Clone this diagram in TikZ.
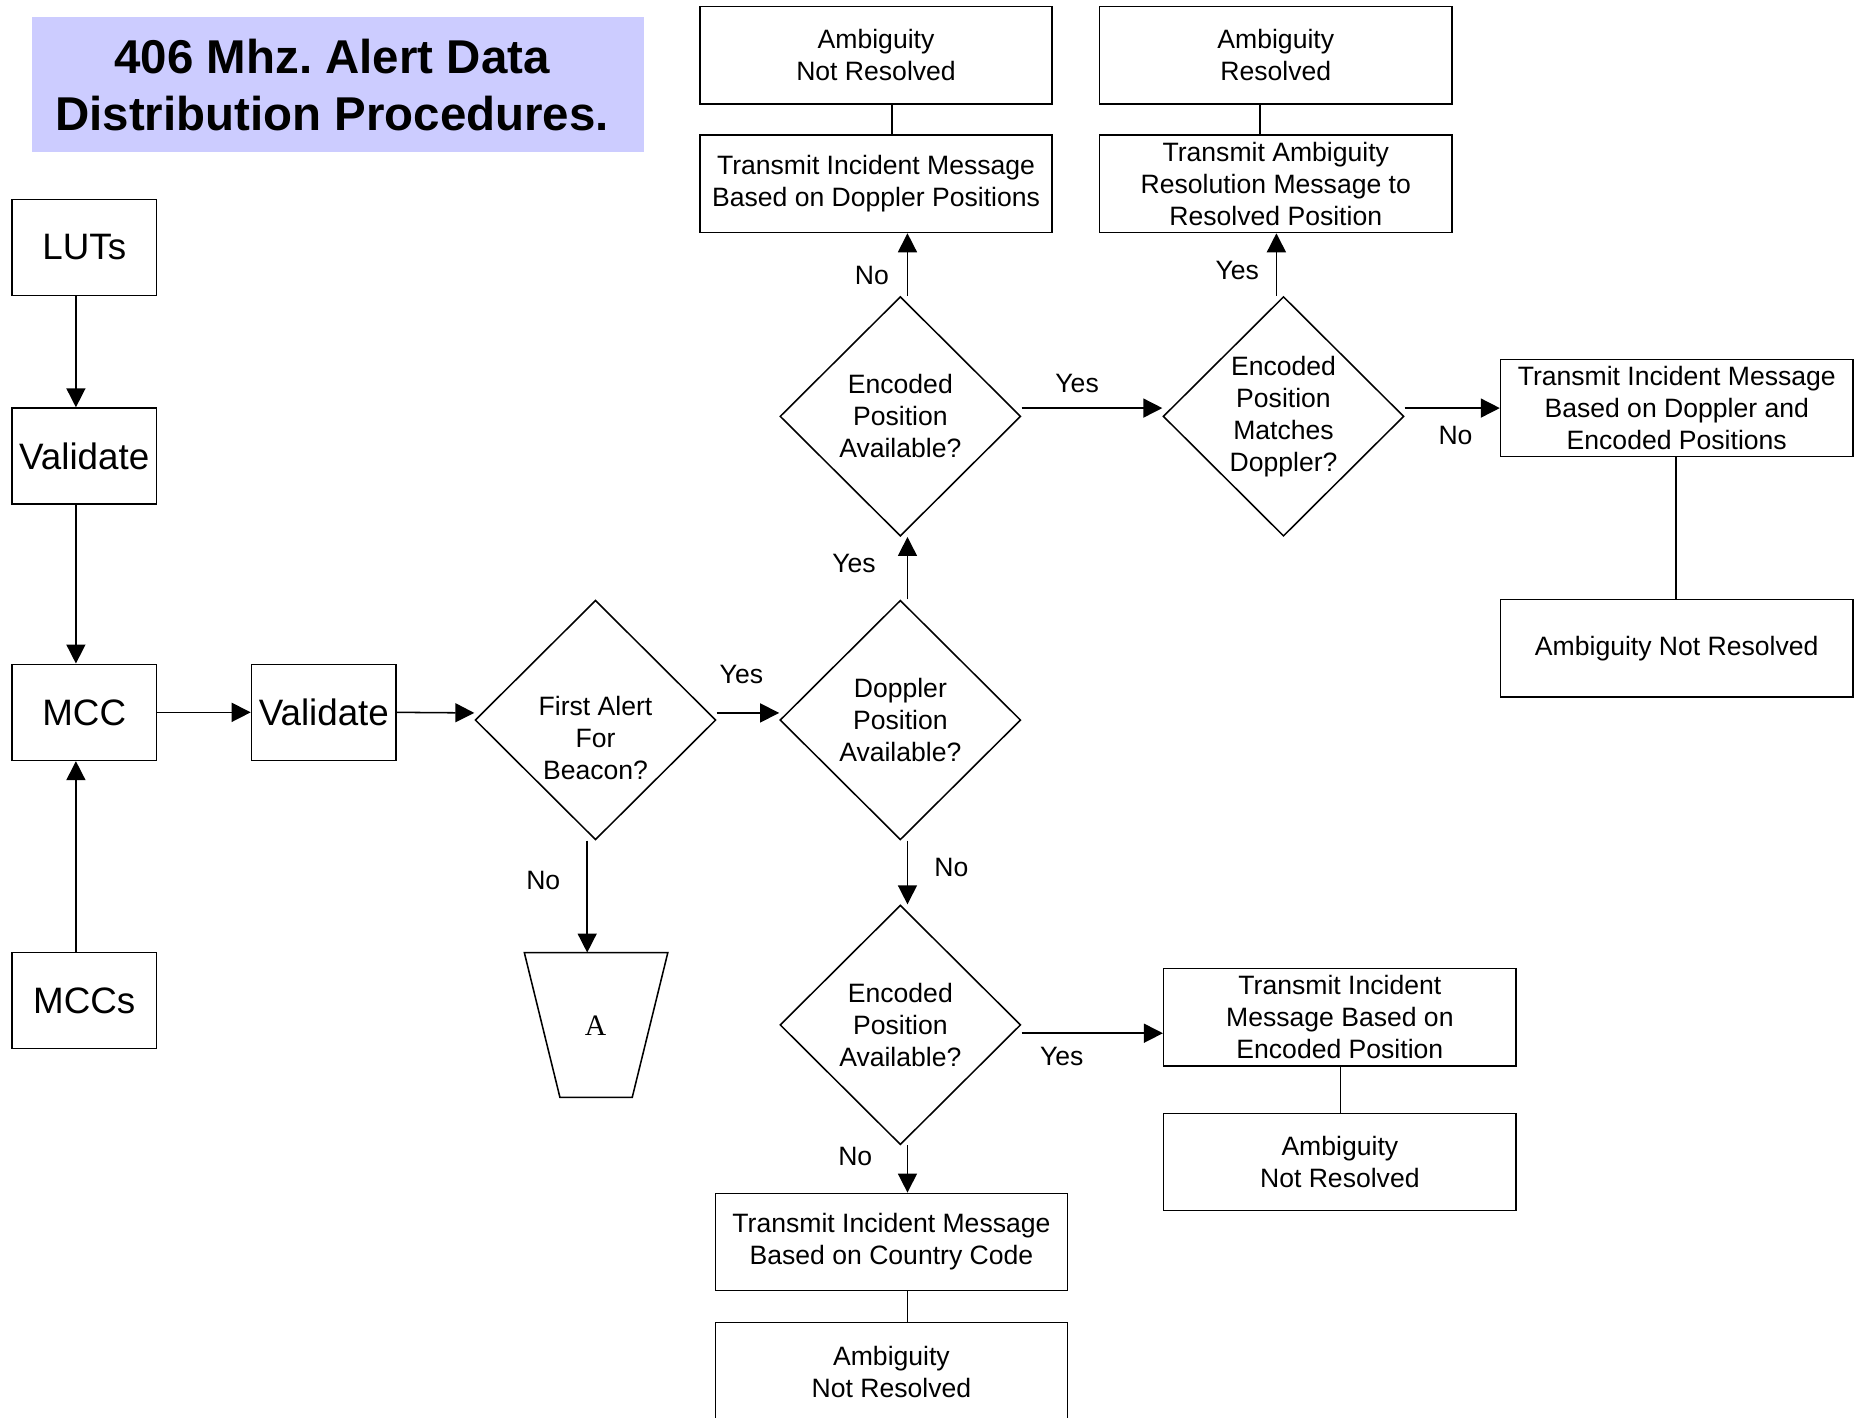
\documentclass[tikz,border=0pt]{standalone}
\usepackage{fontspec}
\setmainfont{Liberation Sans}
\newfontfamily\serifA{Liberation Serif}
\usetikzlibrary{shapes.geometric,arrows.meta}
\definecolor{titlebg}{RGB}{204,204,255}
\frenchspacing
\begin{document}
\begin{tikzpicture}[x=0.5pt,y=-0.5pt,
  line width=0.65pt,
  txt/.style={font=\fontsize{11.2}{13.5}\selectfont, align=center},
  box/.style={draw, rectangle, inner sep=0pt, txt, minimum width=148.5pt, minimum height=41pt},
  bigbox/.style={draw, rectangle, inner sep=0pt, font=\fontsize{15.5}{18}\selectfont, minimum width=61pt, minimum height=40.5pt},
  dia/.style={draw, diamond, inner sep=0pt, txt, minimum width=101.5pt, minimum height=101pt},
  lbl/.style={txt, inner sep=0pt},
  arr/.style={-{Triangle[length=8pt,width=8pt]}},
  con/.style={-}]
\path[use as bounding box] (0,0) rectangle (1568,1195);
\clip (0,0) rectangle (1568,1195);

% title
\node[fill=titlebg, inner sep=0pt, minimum width=258pt, minimum height=57pt] (titlebox) at (285,71) {};
\node[font=\bfseries\fontsize{20}{24}\selectfont, align=center, inner sep=0pt] (title) at (280,72) {406 Mhz. Alert Data\\Distribution Procedures.};

% left column
\node[bigbox] (luts) at (71,208.5) {LUTs};
\node[bigbox] (val1) at (71,384.5) {Validate};
\node[bigbox] (mcc) at (71,600.5) {MCC};
\node[bigbox] (mccs) at (71,843.5) {MCCs};
\node[bigbox] (val2) at (273,600.5) {Validate};

% diamonds
\node[dia, label={[txt,inner sep=0pt,yshift=-7.5pt]center:{First Alert\\For\\Beacon?}}] (d1) at (502,607) {};
\node[dia] (d2) at (759,607) {Doppler\\Position\\Available?};
\node[dia] (d3) at (759,351) {Encoded\\Position\\Available?};
\node[dia] (d4) at (1082,351) {Encoded\\Position\\Matches\\Doppler?};
\node[dia] (d5) at (759,864) {Encoded\\Position\\Available?};

% boxes
\node[box] (amb1) at (738.5,46.5) {Ambiguity\\Not Resolved};
\node[box] (timd) at (738.5,155) {Transmit Incident Message\\Based on Doppler Positions};
\node[box] (ambr) at (1075.5,46.5) {Ambiguity\\Resolved};
\node[box] (tar) at (1075.5,155) {Transmit Ambiguity\\Resolution Message to\\Resolved Position};
\node[box] (timde) at (1413.5,344) {Transmit Incident Message\\Based on Doppler and\\Encoded Positions};
\node[box] (amb2) at (1413.5,546.5) {Ambiguity Not Resolved};
\node[box] (time) at (1129.5,857.5) {Transmit Incident\\Message Based on\\Encoded Position};
\node[box] (amb3) at (1129.5,979.5) {Ambiguity\\Not Resolved};
\node[box] (ticc) at (751.5,1047) {Transmit Incident Message\\Based on Country Code};
\node[box, minimum height=41.5pt] (amb4) at (751.5,1156.5) {Ambiguity\\Not Resolved};

% trapezoid A
\node[font=\serifA\fontsize{12.5}{14}\selectfont, inner sep=0pt] (A) at (502,865) {A};
\coordinate (atl) at (442,803);
\coordinate (atr) at (563,803);
\coordinate (abr) at (533,925);
\coordinate (abl) at (472,925);
\draw (atl) -- (atr) -- (abr) -- (abl) -- cycle;
\coordinate (atop) at (495,803);

% helper x/y positions
\coordinate (x64) at (64,0);
\coordinate (x765) at (765,0);
\coordinate (x752) at (752,0);
\coordinate (x1062) at (1062,0);
\coordinate (x1076) at (1076,0);
\coordinate (x1130) at (1130,0);
\coordinate (x1413) at (1413,0);
\coordinate (x495) at (495,0);
\coordinate (y601) at (0,601);
\coordinate (y344) at (0,344);
\coordinate (y871) at (0,871);

% connectors
\draw[arr] (luts.south -| x64) -- (val1.north -| x64);
\draw[arr] (val1.south -| x64) -- (mcc.north -| x64);
\draw[arr] (mccs.north -| x64) -- (mcc.south -| x64);
\draw[arr] (mcc.east) -- (val2.west);
\draw[arr] (val2.east) -- (d1.west |- y601);
\draw[arr] (d1.east |- y601) -- (d2.west |- y601);
\draw[arr] (d1.south -| x495) -- (atop);
\draw[arr] (d2.north -| x765) -- (d3.south -| x765);
\draw[arr] (d3.north -| x765) -- (timd.south -| x765);
\draw[con] (amb1.south -| x752) -- (timd.north -| x752);
\draw[arr] (d3.east |- y344) -- (d4.west |- y344);
\draw[arr] (d4.north -| x1076) -- (tar.south -| x1076);
\draw[con] (ambr.south -| x1062) -- (tar.north -| x1062);
\draw[arr] (d4.east |- y344) -- (timde.west |- y344);
\draw[con] (timde.south -| x1413) -- (amb2.north -| x1413);
\draw[arr] (d2.south -| x765) -- (d5.north -| x765);
\draw[arr] (d5.east |- y871) -- (time.west |- y871);
\draw[con] (time.south -| x1130) -- (amb3.north -| x1130);
\draw[arr] (d5.south -| x765) -- (ticc.north -| x765);
\draw[con] (ticc.south -| x765) -- (amb4.north -| x765);

% labels
\node[lbl] (l1) at (625,569) {Yes};
\node[lbl] (l2) at (458,742) {No};
\node[lbl] (l3) at (720,475) {Yes};
\node[lbl] (l4) at (735,232) {No};
\node[lbl] (l5) at (908,323) {Yes};
\node[lbl] (l6) at (1043,228) {Yes};
\node[lbl] (l7) at (1227,367) {No};
\node[lbl] (l8) at (802,731) {No};
\node[lbl] (l9) at (895,891) {Yes};
\node[lbl] (l10) at (721,975) {No};
\end{tikzpicture}
\end{document}
